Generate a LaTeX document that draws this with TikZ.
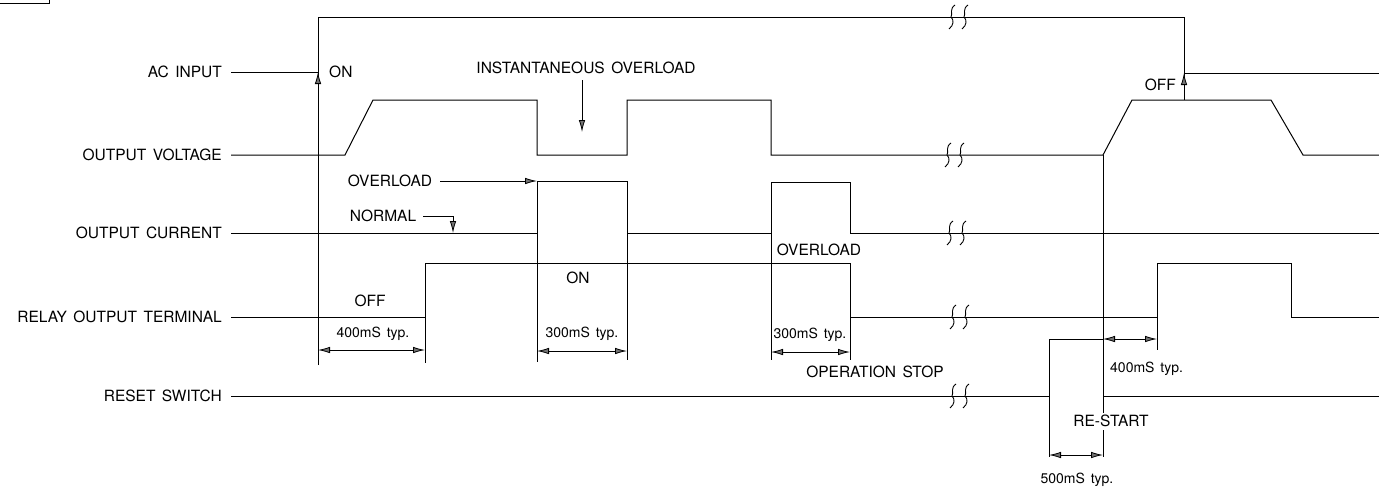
\documentclass[tikz,border=0pt]{standalone}
\usepackage{fontspec}
\setmainfont[WordSpace=1.5]{TeX Gyre Heros}
\usetikzlibrary{arrows.meta}
\newcommand\mybig{\fontsize{15.5}{18}\selectfont}
\newcommand\mysmall{\fontsize{14}{16}\selectfont}
\tikzset{
  sig/.style={line width=1pt, line join=miter},
  ext/.style={line width=0.9pt},
  lbl/.style={font=\mybig, inner sep=0pt, text height=11pt, text depth=0pt, anchor=east},
  txt/.style={font=\mybig, inner sep=0pt, text height=11pt, text depth=0pt},
  dimtxt/.style={font=\mysmall, inner sep=0pt, text height=10pt, text depth=0pt},
  arr/.style={line width=0.8pt, -{Latex[length=12pt,width=6.5pt,fill=black!55]}},
  dimarr/.style={line width=0.8pt, {Latex[length=12pt,width=6.5pt,fill=black!55]}-{Latex[length=12pt,width=6.5pt,fill=black!55]}},
  brk/.style={line width=0.9pt}
}
\begin{document}
\begin{tikzpicture}[x=1pt,y=-1pt]
\useasboundingbox (0,0) rectangle (1379,488);

% corner box fragment
\draw[line width=0.9pt] (0,3) -- (49,3) -- (49,0);

% row labels
\node[lbl] (acL) at (222,72)  {AC INPUT};
\node[lbl] (ovL) at (222,155) {OUTPUT VOLTAGE};
\node[lbl] (ocL) at (222,233) {OUTPUT CURRENT};
\node[lbl] (roL) at (222,317) {RELAY OUTPUT TERMINAL};
\node[lbl] (rsL) at (222,396) {RESET SWITCH};

% key instants
\coordinate (onT)  at (318,72);
\coordinate (offT) at (1184,73);

% AC INPUT
\draw[sig] ([xshift=9pt]acL.east) -- (onT);
\draw[sig] (318,365) -- (318,17) -- (1184,17) -- (1184,100);
\draw[sig] (offT) -- (1379,73);
\draw[arr] (318,95) -- (onT);
\draw[arr] (1184,99) -- (offT);
\node[txt, anchor=west] (on1) at (329,72) {ON};
\node[txt, anchor=east] (off1) at (1176,85) {OFF};

% OUTPUT VOLTAGE
\draw[sig] ([xshift=9pt]ovL.east) -- (345,155) -- (373,100) -- (537,100) -- (537,155)
  -- (627,155) -- (627,100) -- (771,100) -- (771,155) -- (1103,155) -- (1132,100)
  -- (1271,100) -- (1303,155) -- (1379,155);
\node[txt] (inst) at (586,68) {INSTANTANEOUS OVERLOAD};
\coordinate (instT) at (582,132);
\draw[arr] (582,80) -- (instT);

% OUTPUT CURRENT
\draw[sig] ([xshift=9pt]ocL.east) -- (537,233) -- (537,181) -- (627,181) -- (627,233)
  -- (771,233) -- (771,182) -- (850,182) -- (850,233) -- (1379,233);
\node[txt] (ovl1) at (390,181) {OVERLOAD};
\draw[arr] ([xshift=8pt]ovl1.east) -- (537,181);
\node[txt] (norm) at (383,216) {NORMAL};
\draw[arr] ([xshift=7pt]norm.east) -- (453,216) -- (453,233);
\node[txt] (ovl2) at (819,250) {OVERLOAD};

% RELAY OUTPUT TERMINAL
\draw[sig] ([xshift=9pt]roL.east) -- (425,317) -- (425,263) -- (850,263) -- (850,317)
  -- (1157,317) -- (1157,263) -- (1291,263) -- (1291,317) -- (1379,317);
\node[txt] (off2) at (370,301) {OFF};
\node[txt] (on2) at (578,278) {ON};

% RESET SWITCH
\draw[sig] ([xshift=9pt]rsL.east) -- (1049,396) -- (1049,339) -- (1103,339) -- (1103,396) -- (1379,396);

% extension lines
\draw[ext] (425,317) -- (425,363);
\draw[ext] (537,233) -- (537,362);
\draw[ext] (627,233) -- (627,360);
\draw[ext] (771,233) -- (771,360);
\draw[ext] (850,317) -- (850,360);
\draw[ext] (1103,155) -- (1103,339);
\draw[ext] (1103,396) -- (1103,457);
\draw[ext] (1157,317) -- (1157,350);
\draw[ext] (1049,396) -- (1049,457);

% dimensions
\draw[dimarr] (318,350) -- (425,350);
\node[dimtxt] (d1) at (373,332) {400mS typ.};
\draw[dimarr] (537,351) -- (627,351);
\node[dimtxt] (d2) at (582,332) {300mS typ.};
\draw[dimarr] (771,352) -- (850,352);
\node[dimtxt] (d3) at (810,333) {300mS typ.};
\draw[dimarr] (1103,339) -- (1157,339);
\node[dimtxt, anchor=west] (d4) at (1110,367) {400mS typ.};
\draw[dimarr] (1049,455) -- (1103,455);
\node[dimtxt] (d5) at (1077,478) {500mS typ.};

\node[txt] (stop) at (875,372) {OPERATION STOP};
\node[txt, fill=white, inner sep=3pt] (rest) at (1111,421) {RE-START};

% break marks
\foreach \bx/\by in {952/17, 948/155, 950/233, 953/317, 953/396}{
  \foreach \dx in {0,13}{
    \draw[brk] (\bx+\dx+3,\by-12) .. controls (\bx+\dx-3,\by-8) and (\bx+\dx+1,\by-3) .. (\bx+\dx-1,\by)
      .. controls (\bx+\dx+2,\by+3) and (\bx+\dx+2,\by+8) .. (\bx+\dx-3,\by+12);
  }
}
\end{tikzpicture}
\end{document}
